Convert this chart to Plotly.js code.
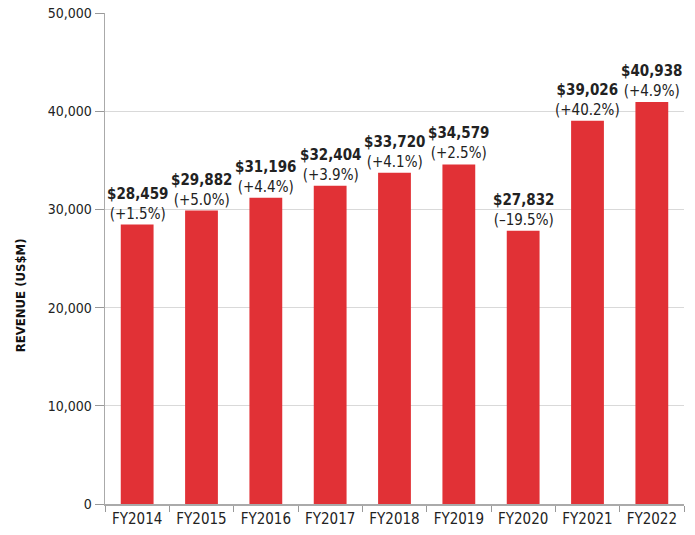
<!DOCTYPE html>
<html><head><meta charset="utf-8">
<script src="https://cdn.plot.ly/plotly-3.0.1.min.js"></script>
<style>body{margin:0;background:#fff}#c{width:695px;height:535px}
svg text{font-stretch:condensed !important}</style>
</head><body><div id="c"></div>
<script>
const years = ["FY2014","FY2015","FY2016","FY2017","FY2018","FY2019","FY2020","FY2021","FY2022"];
const revenue = [28459,29882,31196,32404,33720,34579,27832,39026,40938];
const growth = ["+1.5%","+5.0%","+4.4%","+3.9%","+4.1%","+2.5%","–19.5%","+40.2%","+4.9%"];
const yTicks = [0,10000,20000,30000,40000,50000];
const yTitle = "REVENUE (US$M)";

const FONT = '"DejaVu Sans",sans-serif';

const anns = years.map((yr,i)=>({
  x:yr, y:revenue[i], xref:'x', yref:'y', yanchor:'bottom', xanchor:'center',
  text:'<b>$'+revenue[i].toLocaleString('en-US')+'</b><br>('+growth[i]+')',
  showarrow:false, borderpad:0, yshift:1,
  font:{family:FONT,size:15,color:'#222'}
}));
anns.push({xref:'paper',yref:'paper',x:-0.147,y:0.425,xanchor:'center',yanchor:'middle',
  textangle:-90,showarrow:false,text:'<b>'+yTitle+'</b>',
  font:{family:FONT,size:13,color:'#111'}});

Plotly.newPlot('c',[{
  type:'bar', x:years, y:revenue,
  marker:{color:'#E13136'}, hoverinfo:'none'
}],{
  width:695,height:535,
  margin:{l:105,r:11,t:13,b:31},
  paper_bgcolor:'#fff',plot_bgcolor:'#fff',
  bargap:0.49, showlegend:false,
  font:{family:FONT,color:'#222'},
  annotations:anns,
  xaxis:{tickson:'boundaries',ticks:'outside',ticklen:6,tickcolor:'#999',
    showline:true,linecolor:'#aaa',linewidth:1.5,showgrid:false,
    tickfont:{size:15,family:FONT,color:'#222'}},
  yaxis:{range:[0,50000],tickvals:yTicks,ticktext:yTicks.map(v=>v.toLocaleString('en-US')),
    ticks:'outside',ticklen:9,tickcolor:'#999',showline:true,linecolor:'#aaa',linewidth:1.5,
    gridcolor:'#d9d9d9',zeroline:false,
    tickfont:{size:14,family:FONT,color:'#222'}}
},{displayModeBar:false,staticPlot:true});
</script></body></html>
